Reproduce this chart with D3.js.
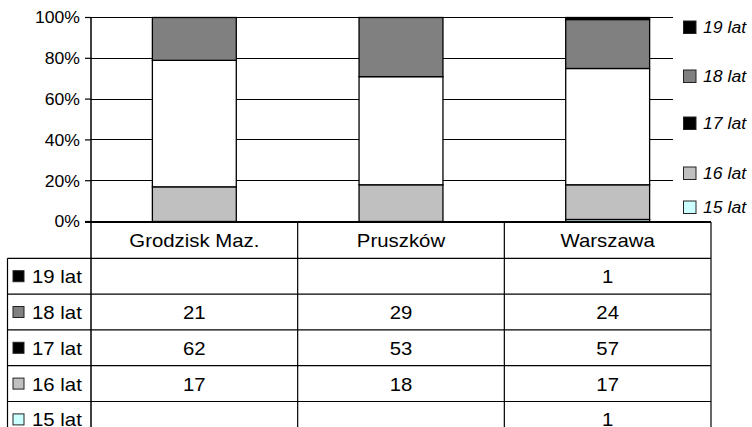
<!DOCTYPE html>
<html><head><meta charset="utf-8">
<script src="https://cdn.jsdelivr.net/npm/d3@7"></script>
<style>body{margin:0;background:#fff}svg{display:block;font-family:"Liberation Sans",Arial,sans-serif}</style>
</head><body><svg id="c" width="752" height="427"></svg>
<script>
const categories = ["Grodzisk Maz.", "Pruszków", "Warszawa"];
const seriesNames = ["15 lat", "16 lat", "17 lat", "18 lat", "19 lat"];
const s15 = [0, 0, 1];
const s16 = [17, 18, 17];
const s17 = [62, 53, 57];
const s18 = [21, 29, 24];
const s19 = [0, 0, 1];
const yTicks = [0, 20, 40, 60, 80, 100];
const barFills = ["#ccffff", "#c0c0c0", "#ffffff", "#808080", "#000000"];
const legendFills = ["#ccffff", "#c0c0c0", "#000000", "#808080", "#000000"];

const seriesValues = [s15, s16, s17, s18, s19];
const svg = d3.select("#c");
const STRETCH = 1.1;
function stretch(sel){ sel.each(function(){ const l=this.getComputedTextLength(); d3.select(this).attr("textLength", l*STRETCH).attr("lengthAdjust","spacingAndGlyphs"); }); }

const L = 91, R = 711, T = 17.5, B = 221.5;
const x = d3.scaleBand().domain(categories).range([L, R]).paddingInner(0.594).paddingOuter(0.297);
const xCol = d3.scaleBand().domain(categories).range([L, R]);
const y = d3.scaleLinear().domain([0, 100]).range([B, T]);

// gridlines
svg.append("g").selectAll("line").data(yTicks.filter(d => d > 0)).join("line")
  .attr("x1", L).attr("x2", R).attr("y1", d => y(d)).attr("y2", d => y(d))
  .attr("stroke", "#000").attr("stroke-width", 1).attr("shape-rendering","crispEdges");

// stacked data
const rows = categories.map((c, i) => { const o = {cat: c}; seriesNames.forEach((s, j) => o[s] = seriesValues[j][i]); return o; });
const stack = d3.stack().keys(seriesNames)(rows);
const gb = svg.append("g");
stack.forEach((layer, j) => {
  gb.selectAll(null).data(layer.filter(d => d[1] - d[0] > 0)).join("rect")
    .attr("x", d => x(d.data.cat)).attr("width", x.bandwidth())
    .attr("y", d => y(d[1])).attr("height", d => y(d[0]) - y(d[1]))
    .attr("fill", barFills[j]).attr("stroke", "#000").attr("stroke-width", 1.3);
});

// y axis
const ax = svg.append("g");
ax.append("line").attr("x1", L).attr("x2", L).attr("y1", T).attr("y2", 440).attr("stroke", "#000").attr("stroke-width", 1.5);
ax.selectAll(".tk").data(yTicks).join("line").attr("x1", L - 6).attr("x2", L)
  .attr("y1", d => y(d)).attr("y2", d => y(d)).attr("stroke", "#000").attr("stroke-width", 1.2);
ax.selectAll("text").data(yTicks).join("text").attr("x", 80).attr("y", d => y(d) + 5.8)
  .attr("text-anchor", "end").attr("font-size", 16).text(d => d + "%").call(stretch);
ax.append("line").attr("x1", L - 6).attr("x2", R).attr("y1", B + 0.5).attr("y2", B + 0.5).attr("stroke", "#000").attr("stroke-width", 2);

// legend (covers plot right part)
const lg = svg.append("g");
lg.append("rect").attr("x", 673).attr("y", 0).attr("width", 79).attr("height", B - 1).attr("fill", "#fff");
const legY = [207, 173, 123, 76, 27];
seriesNames.forEach((s, j) => {
  lg.append("rect").attr("x", 683.5).attr("y", legY[j] - 6).attr("width", 12.5).attr("height", 12.5)
    .attr("fill", legendFills[j]).attr("stroke", "#222").attr("stroke-width", 1);
  lg.append("text").attr("x", 703).attr("y", legY[j] + 6).attr("font-size", 16).attr("font-style", "italic").text(s).call(stretch);
});

// data table
const headTop = B + 0.5, headBot = 258.3, rowH = 35.8;
const tableRows = seriesNames.slice().reverse();
const tg = svg.append("g");
tg.selectAll(".hd").data(categories).join("text").attr("x", d => xCol(d) + xCol.bandwidth() / 2).attr("y", 247)
  .attr("text-anchor", "middle").attr("font-size", 18.5).text(d => d).call(stretch);
xCol.domain().forEach(c => {
  tg.append("line").attr("x1", xCol(c) + xCol.bandwidth()).attr("x2", xCol(c) + xCol.bandwidth())
    .attr("y1", headTop).attr("y2", 440).attr("stroke", "#000").attr("stroke-width", 1.2);
});
tg.append("line").attr("x1", 7.5).attr("x2", 7.5).attr("y1", headBot).attr("y2", 440).attr("stroke", "#000").attr("stroke-width", 1.2);
d3.range(tableRows.length + 1).forEach(i => {
  tg.append("line").attr("x1", 7.5).attr("x2", R).attr("y1", headBot + i * rowH).attr("y2", headBot + i * rowH)
    .attr("stroke", "#000").attr("stroke-width", 1.2);
});
tableRows.forEach((s, i) => {
  const j = seriesNames.indexOf(s);
  const cy = headBot + i * rowH + rowH / 2;
  tg.append("rect").attr("x", 13).attr("y", cy - 5.5).attr("width", 11).attr("height", 11)
    .attr("fill", legendFills[j]).attr("stroke", "#222").attr("stroke-width", 1);
  tg.append("text").attr("x", 32).attr("y", cy + 7).attr("font-size", 18.5).text(s).call(stretch);
  categories.forEach((c, k) => {
    const v = seriesValues[j][k];
    if (v > 0) tg.append("text").attr("x", xCol(c) + xCol.bandwidth() / 2).attr("y", cy + 7)
      .attr("text-anchor", "middle").attr("font-size", 18.5).text(v).call(stretch);
  });
});
</script></body></html>
